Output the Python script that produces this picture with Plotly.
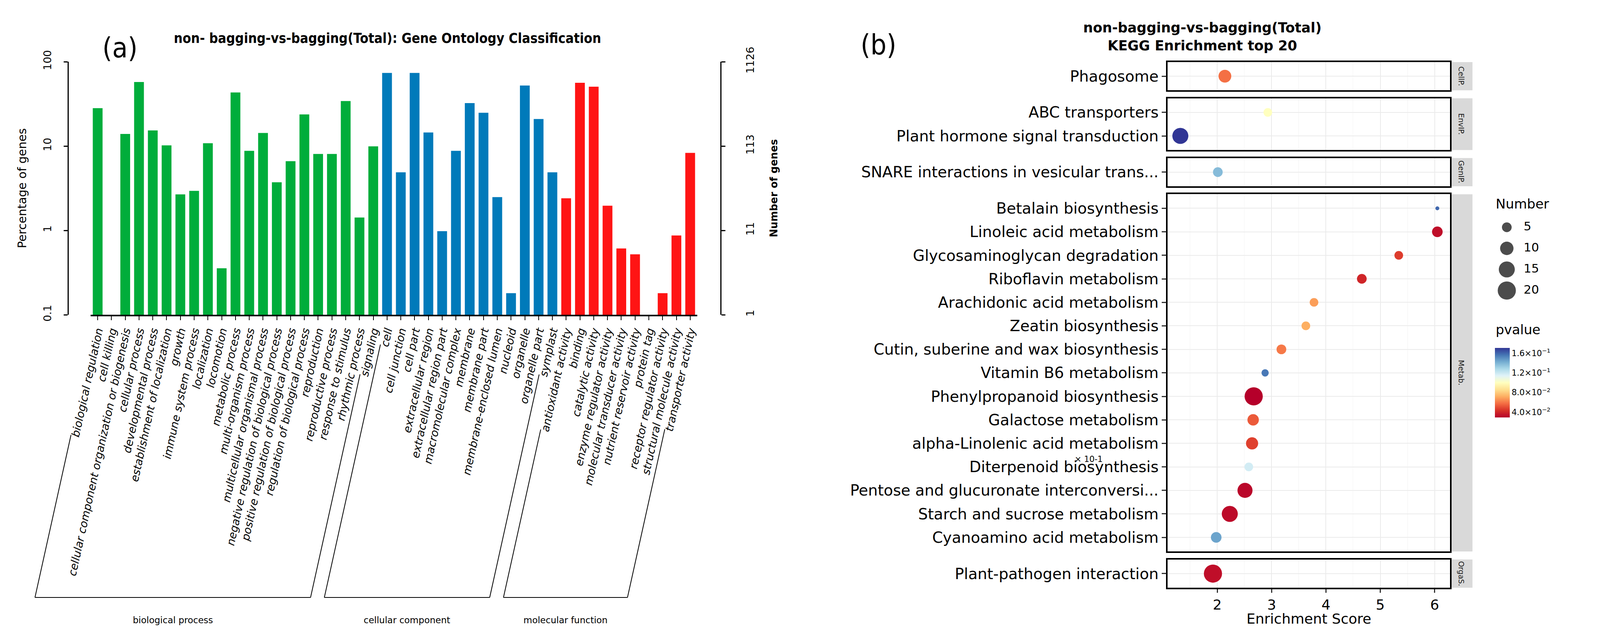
import math
import plotly.graph_objects as go

# reference canvas (all layout positions below are given in reference pixels)
W, H = 4354, 1621
SX = 0.935                      # horizontal fit factor for the visible page width
WF = int(round(W * SX))         # rendered figure width

# ---------------- (a) GO classification data ----------------
bp_terms = ["biological regulation", "cell killing", "cellular component organization or biogenesis",
            "cellular process", "developmental process", "establishment of localization", "growth",
            "immune system process", "localization", "locomotion", "metabolic process",
            "multi-organism process", "multicellular organismal process",
            "negative regulation of biological process", "positive regulation of biological process",
            "regulation of biological process", "reproduction", "reproductive process",
            "response to stimulus", "rhythmic process", "signaling"]
bp_percent = [28.1, None, 13.9, 57.4, 15.3, 10.2, 2.67, 2.94, 10.8, 0.356, 43.2,
              8.77, 14.3, 3.72, 6.62, 23.7, 8.05, 8.05, 34.2, 1.42, 9.93]

cc_terms = ["cell", "cell junction", "cell part", "extracellular region", "extracellular region part",
            "macromolecular complex", "membrane", "membrane part", "membrane-enclosed lumen",
            "nucleoid", "organelle", "organelle part", "symplast"]
cc_percent = [73.6, 4.88, 73.6, 14.5, 0.98, 8.77, 32.3, 24.8, 2.48, 0.18, 52.2, 20.9, 4.88]

mf_terms = ["antioxidant activity", "binding", "catalytic activity", "enzyme regulator activity",
            "molecular transducer activity", "nutrient reservoir activity", "protein tag",
            "receptor regulator activity", "structural molecule activity", "transporter activity"]
mf_percent = [2.4, 56.2, 50.6, 1.96, 0.61, 0.52, None, 0.18, 0.87, 8.3]

group_names = ["biological process", "cellular component", "molecular function"]
group_colors = ["#00AD3B", "#007ABA", "#FF1414"]
total_genes = 1126
pct_ticks = [0.1, 1, 10, 100]
pct_tick_text = ["0.1", "1", "10", "100"]

# ---------------- (b) KEGG enrichment data ----------------
kegg_terms = ["Phagosome", "ABC transporters", "Plant hormone signal transduction",
              "SNARE interactions in vesicular trans...", "Betalain biosynthesis",
              "Linoleic acid metabolism", "Glycosaminoglycan degradation", "Riboflavin metabolism",
              "Arachidonic acid metabolism", "Zeatin biosynthesis",
              "Cutin, suberine and wax biosynthesis", "Vitamin B6 metabolism",
              "Phenylpropanoid biosynthesis", "Galactose metabolism",
              "alpha-Linolenic acid metabolism", "Diterpenoid biosynthesis",
              "Pentose and glucuronate interconversi...", "Starch and sucrose metabolism",
              "Cyanoamino acid metabolism", "Plant-pathogen interaction"]
kegg_class = ["CellP.", "EnvIP.", "EnvIP.", "GenIP.", "Metab.", "Metab.", "Metab.", "Metab.",
              "Metab.", "Metab.", "Metab.", "Metab.", "Metab.", "Metab.", "Metab.", "Metab.",
              "Metab.", "Metab.", "Metab.", "OrgaS."]
kegg_score = [2.14, 2.93, 1.32, 2.01, 6.05, 6.05, 5.34, 4.66, 3.78, 3.63, 3.18, 2.88,
              2.67, 2.66, 2.64, 2.58, 2.51, 2.23, 1.98, 1.92]
kegg_number = [9, 4, 15, 5, 2, 6, 4, 5, 4, 4, 5, 3, 20, 7, 8, 4, 13, 15, 6, 20]
kegg_pvalue = [0.058, 0.100, 0.171, 0.138, 0.160, 0.033, 0.046, 0.040, 0.068, 0.072, 0.060,
               0.156, 0.029, 0.053, 0.047, 0.118, 0.031, 0.032, 0.145, 0.033]
class_order = ["CellP.", "EnvIP.", "GenIP.", "Metab.", "OrgaS."]
size_breaks = [5, 10, 15, 20]
pvalue_breaks = [0.04, 0.08, 0.12, 0.16]


def px(x):
    return x / W


def py(y):
    return 1 - y / H


FONT = "DejaVu Sans, Verdana, sans-serif"
COND = "DejaVu Sans Condensed, Liberation Sans Narrow, Roboto Condensed, DejaVu Sans"

fig = go.Figure()

# ================= panel (a) =================
cats = bp_terms + cc_terms + mf_terms
vals = bp_percent + cc_percent + mf_percent
cols = ([group_colors[0]] * len(bp_terms) + [group_colors[1]] * len(cc_terms)
        + [group_colors[2]] * len(mf_terms))
fig.add_trace(go.Bar(x=cats, y=vals, marker=dict(color=cols, line=dict(width=0)),
                     width=0.71, xaxis="x", yaxis="y", hoverinfo="x+y"))
fig.add_trace(go.Scatter(x=[cats[0]], y=[total_genes], xaxis="x", yaxis="y2", mode="markers",
                         marker=dict(opacity=0), hoverinfo="skip"))

AX0, AX1, AY = 240, 1900, 798
ncat = len(cats)
pitch = (AX1 - AX0) / ncat
tick_font_size = 28
theta = math.radians(77.5)
ct, st = math.cos(theta), math.sin(theta)
cw = {'a': .613, 'b': .635, 'c': .550, 'd': .635, 'e': .615, 'f': .352, 'g': .635, 'h': .634,
      'i': .278, 'j': .278, 'k': .579, 'l': .278, 'm': .974, 'n': .634, 'o': .612, 'p': .635,
      'q': .635, 'r': .411, 's': .521, 't': .392, 'u': .634, 'v': .592, 'w': .818, 'x': .592,
      'y': .592, 'z': .525, ' ': .318, '-': .361}


def text_w(s, size):
    return sum(cw.get(ch, .6) for ch in s) * size


YB = 1522
shapes = []
annotations = []
starts = [0, len(bp_terms), len(bp_terms) + len(cc_terms)]
ends = [len(bp_terms) - 1, len(bp_terms) + len(cc_terms) - 1, ncat - 1]
for g in range(3):
    bxs = []
    for i in (starts[g], ends[g]):
        xt = (AX0 + (i + 0.5) * pitch) * SX          # rendered pixels
        d0 = 18 + text_w(cats[i], tick_font_size) + 12
        d1 = (YB - AY) / st
        x_top, y_top = xt - d0 * ct, AY + d0 * st
        x_bot = xt - d1 * ct
        bxs.append(x_bot)
        shapes.append(dict(type="line", xref="paper", yref="paper", x0=x_top / WF, y0=py(y_top),
                           x1=x_bot / WF, y1=py(YB), line=dict(color="black", width=2)))
    shapes.append(dict(type="line", xref="paper", yref="paper", x0=bxs[0] / WF, y0=py(YB),
                       x1=bxs[1] / WF, y1=py(YB), line=dict(color="black", width=2)))
    annotations.append(dict(text=group_names[g], xref="paper", yref="paper",
                            x=(bxs[0] + bxs[1]) / 2 / WF, y=py(1580), showarrow=False,
                            font=dict(family=FONT, size=23, color="black"),
                            xanchor="center", yanchor="middle"))

annotations += [
    dict(text="<b>non- bagging-vs-bagging(Total): Gene Ontology Classification</b>",
         xref="paper", yref="paper", x=px(1052), y=py(90), showarrow=False,
         font=dict(family=COND, size=35, color="black"), xanchor="center", yanchor="middle"),
    dict(text="(a)", xref="paper", yref="paper", x=px(320), y=py(114), showarrow=False,
         font=dict(family=COND, size=72, color="black"), xanchor="center", yanchor="middle"),
    dict(text="Percentage of genes", xref="paper", yref="paper", x=px(51), y=py(474),
         showarrow=False, textangle=-90, font=dict(family=FONT, size=30, color="black"),
         xanchor="center", yanchor="middle"),
    dict(text="<b>Number of genes</b>", xref="paper", yref="paper", x=px(2110), y=py(474),
         showarrow=False, textangle=-90, font=dict(family=FONT, size=26, color="black"),
         xanchor="center", yanchor="middle"),
]

cnt_ticks = [total_genes * t / 100 for t in pct_ticks]
cnt_text = [str(int(round(v))) for v in cnt_ticks]

layout_axes = dict(
    xaxis=dict(domain=[px(AX0), px(AX1)], type="category", categoryorder="array",
               categoryarray=cats, range=[-0.5, ncat - 0.5], anchor="y", showline=True,
               linecolor="black", linewidth=4, ticks="outside", ticklen=10, tickwidth=2,
               tickcolor="black", tickangle=-77.5, showgrid=False, zeroline=False,
               automargin=False,
               tickfont=dict(family=FONT, size=tick_font_size, color="black", style="italic")),
    yaxis=dict(domain=[py(AY), py(150)], type="log", range=[-1, 2], anchor="free",
               position=px(178), showline=True, linecolor="black", linewidth=3,
               ticks="outside", ticklen=10, tickwidth=3, tickcolor="black",
               tickvals=pct_ticks, ticktext=pct_tick_text, tickangle=-90, showgrid=False,
               zeroline=False, ticklabelstandoff=22, automargin=False,
               tickfont=dict(family=FONT, size=27, color="black")),
    yaxis2=dict(overlaying="y", side="right", anchor="free", position=px(1965), type="log",
                range=[math.log10(cnt_ticks[0]), math.log10(cnt_ticks[-1])], showline=True,
                linecolor="black", linewidth=3, ticks="outside", ticklen=10, tickwidth=3,
                tickcolor="black", tickvals=cnt_ticks, ticktext=cnt_text, tickangle=-90,
                showgrid=False, zeroline=False, ticklabelstandoff=40, automargin=False,
                tickfont=dict(family=FONT, size=27, color="black")),
)

# ================= panel (b) =================
PX0, PX1, STRIP1 = 3188, 3962, 4023
P_TOP, P_BOT, GAP = 151, 1497, 20.5
counts = [kegg_class.count(c) for c in class_order]
units = sum(n + 0.2 for n in counts)
unit_px = (P_BOT - P_TOP - GAP * (len(class_order) - 1)) / units
smin, smax = min(kegg_score), max(kegg_score)
xr = [smin - 0.05 * (smax - smin), smax + 0.05 * (smax - smin)]
nmin, nmax = min(kegg_number), max(kegg_number)
D0, D1 = 10.0, 46.5


def dia(n):
    return D0 + (D1 - D0) * math.sqrt(max(n - nmin, 0) / (nmax - nmin))


colorscale = [[0.0, "#B5002A"], [0.1, "#D73027"], [0.2, "#F46D43"], [0.3, "#FDAE61"],
              [0.4, "#FEE090"], [0.5, "#FFFFBF"], [0.6, "#E0F3F8"], [0.7, "#ABD9E9"],
              [0.8, "#74ADD1"], [0.9, "#4575B4"], [1.0, "#313695"]]

y_cur = P_TOP
for k, cls in enumerate(class_order):
    idx = [i for i, c in enumerate(kegg_class) if c == cls]
    terms = [kegg_terms[i] for i in idx]
    n = len(terms)
    top, bot = y_cur, y_cur + (n + 0.2) * unit_px
    y_cur = bot + GAP
    ax = 3 + k
    fig.add_trace(go.Scatter(
        x=[kegg_score[i] for i in idx], y=terms, mode="markers",
        xaxis=f"x{ax}", yaxis=f"y{ax}",
        marker=dict(size=[dia(kegg_number[i]) for i in idx], sizemode="diameter",
                    color=[kegg_pvalue[i] for i in idx], coloraxis="coloraxis",
                    line=dict(width=0), opacity=1)))
    last = (k == len(class_order) - 1)
    layout_axes[f"xaxis{ax}"] = dict(
        domain=[px(PX0), px(PX1)], anchor=f"y{ax}", range=xr, showline=True, mirror=True,
        linecolor="black", linewidth=4, showgrid=True, gridcolor="#EBEBEB", gridwidth=2,
        dtick=1, tick0=0, zeroline=False, automargin=False,
        minor=dict(showgrid=True, gridcolor="#F3F3F3", gridwidth=1, dtick=1, tick0=0.5),
        ticks="outside" if last else "", ticklen=9, tickwidth=3, tickcolor="#333333",
        showticklabels=last, tickfont=dict(family=FONT, size=36, color="black"))
    layout_axes[f"yaxis{ax}"] = dict(
        domain=[py(bot), py(top)], anchor=f"x{ax}", type="category", categoryorder="array",
        categoryarray=terms, range=[n - 0.4, -0.6], showline=True, mirror=True,
        linecolor="black", linewidth=4, showgrid=True, gridcolor="#EBEBEB", gridwidth=2,
        zeroline=False, ticks="outside", ticklen=11, tickwidth=3, tickcolor="#333333",
        automargin=False, tickfont=dict(family=FONT, size=39, color="black"))
    shapes.append(dict(type="rect", xref="paper", yref="paper", x0=px(PX1 + 2), x1=px(STRIP1),
                       y0=py(bot), y1=py(top), fillcolor="#D9D9D9", line=dict(width=0),
                       layer="below"))
    annotations.append(dict(text=cls, xref="paper", yref="paper", x=px((PX1 + STRIP1) / 2),
                            y=py((top + bot) / 2), showarrow=False, textangle=90,
                            font=dict(family=FONT, size=19, color="#1A1A1A"),
                            xanchor="center", yanchor="middle"))

# size legend
fig.add_trace(go.Scatter(x=[32] * len(size_breaks), y=[i + 0.5 for i in range(len(size_breaks))],
                         mode="markers", xaxis="x8", yaxis="y8",
                         marker=dict(size=[dia(s) for s in size_breaks], sizemode="diameter",
                                     color="black", line=dict(width=0)), hoverinfo="skip"))
fig.add_trace(go.Scatter(x=[78] * len(size_breaks), y=[i + 0.5 for i in range(len(size_breaks))],
                         mode="text", text=[str(s) for s in size_breaks],
                         textposition="middle right", xaxis="x8", yaxis="y8",
                         textfont=dict(family=FONT, size=31, color="black"), hoverinfo="skip"))
layout_axes["xaxis8"] = dict(domain=[px(4085), px(4235)], range=[0, 150], visible=False,
                             showticklabels=False, anchor="y8", fixedrange=True,
                             automargin=False)
layout_axes["yaxis8"] = dict(domain=[py(763), py(547)], range=[len(size_breaks), 0],
                             visible=False, showticklabels=False, anchor="x8", fixedrange=True,
                             automargin=False)


def sci(v):
    e = int(math.floor(math.log10(v)))
    m = v / 10 ** e
    return f"{m:.1f}×10<sup>−{abs(e)}</sup>"


annotations += [
    dict(text="<b>non-bagging-vs-bagging(Total)<br>KEGG Enrichment top 20</b>", xref="paper",
         yref="paper", x=px(3283), y=py(86), showarrow=False,
         font=dict(family=FONT, size=35, color="black"), xanchor="center", yanchor="middle"),
    dict(text="(b)", xref="paper", yref="paper", x=px(2397), y=py(106), showarrow=False,
         font=dict(family=COND, size=72, color="black"), xanchor="center", yanchor="middle"),
    dict(text="Enrichment Score", xref="paper", yref="paper", x=px((PX0 + PX1) / 2), y=py(1576),
         showarrow=False, font=dict(family=FONT, size=36, color="black"),
         xanchor="center", yanchor="middle"),
    dict(text="Number", xref="paper", yref="paper", x=px(4085), y=py(514), showarrow=False,
         font=dict(family=FONT, size=34, color="black"), xanchor="left", yanchor="middle"),
    dict(text="pvalue", xref="paper", yref="paper", x=px(4085), y=py(836), showarrow=False,
         font=dict(family=FONT, size=34, color="black"), xanchor="left", yanchor="middle"),
    dict(text="× 10-1", xref="paper", yref="paper", x=px(2972), y=py(1168), showarrow=False,
         font=dict(family=FONT, size=21, color="black"), xanchor="center", yanchor="middle"),
]

fig.update_layout(
    width=WF, height=H, autosize=False,
    margin=dict(l=0, r=0, t=0, b=0, pad=0, autoexpand=False),
    paper_bgcolor="white", plot_bgcolor="white", showlegend=False, bargap=0.29,
    shapes=shapes, annotations=annotations,
    coloraxis=dict(colorscale=colorscale, cmin=min(kegg_pvalue), cmax=max(kegg_pvalue),
                   colorbar=dict(x=px(4085), xanchor="left", y=py(972), yanchor="middle",
                                 len=178, lenmode="pixels", thickness=38,
                                 thicknessmode="pixels", outlinewidth=0, xpad=0, ypad=0,
                                 tickvals=pvalue_breaks, ticktext=[sci(v) for v in pvalue_breaks],
                                 ticks="", tickfont=dict(family=FONT, size=21, color="black"))),
    **layout_axes,
)

fig.write_html("out.html")
